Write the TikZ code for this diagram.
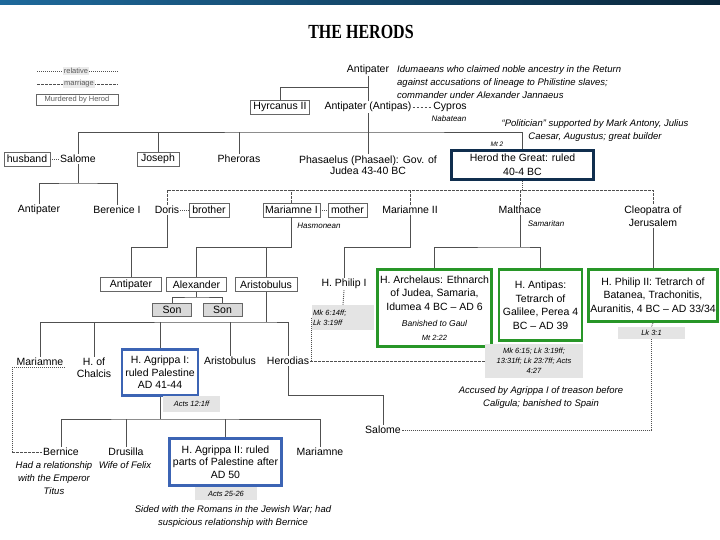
\documentclass[tikz,border=0pt]{standalone}
\usepackage{fontspec}
\setmainfont{Liberation Sans}
\newfontfamily\titlefont[FakeStretch=0.8]{Liberation Serif}
\definecolor{barblue}{RGB}{30,105,155}
\definecolor{bardark}{RGB}{10,38,58}
\definecolor{herodnavy}{RGB}{16,46,78}
\definecolor{rulegreen}{RGB}{40,150,40}
\definecolor{agrippablue}{RGB}{60,100,180}
\definecolor{linegray}{RGB}{80,80,80}
\definecolor{citegray}{RGB}{228,228,228}
\begin{document}
\begin{tikzpicture}[x=1pt,y=-1pt,
  person/.style={font=\fontsize{10.5}{12.5}\selectfont, inner sep=1pt, align=center},
  murdered/.style={person, draw=black!60, line width=0.7pt, inner sep=1.8pt, minimum height=14pt},
  son/.style={murdered, fill=black!15, minimum width=39pt, minimum height=13pt},
  ruler/.style={person, line width=2.6pt, inner sep=2pt},
  note/.style={font=\fontsize{9.5}{13}\selectfont\itshape, align=center, inner sep=0pt},
  smallnote/.style={font=\fontsize{8}{10}\selectfont\itshape, inner sep=0pt},
  cite/.style={fill=citegray, font=\fontsize{7.5}{10}\selectfont\itshape, align=center, inner sep=1pt},
  legend/.style={fill=black!8, text=black!65, font=\fontsize{7.5}{9}\selectfont, inner sep=1pt},
  tree/.style={draw=linegray, line width=0.9pt},
  kin/.style={tree, dash pattern=on 1pt off 1pt},
  wed/.style={tree, dash pattern=on 2.5pt off 1.5pt}]
\useasboundingbox (0,0) rectangle (720,540);
\shade[left color=barblue, right color=bardark] (0,0) rectangle (720,5);

\node[font=\titlefont\bfseries\fontsize{20}{22}\selectfont] (title) at (361,32) {THE HERODS};

\coordinate (kinA) at (37,71);
\coordinate (kinB) at (118,71);
\coordinate (wedA) at (37,84);
\coordinate (wedB) at (118,84);
\path[kin] (kinA) -- (kinB);
\path[wed] (wedA) -- (wedB);
\node[legend] (kinkey) at (76,71) {relative};
\node[legend] (wedkey) at (79,84) {marriage};
\node[murdered, legend, fill=none, minimum width=82pt, minimum height=11pt] (murderkey) at (77,100) {Murdered by Herod};

\node[person] (antipater) at (368,70) {Antipater};
\node[note, align=left, anchor=west] (idumeans) at (397,82) {Idumaeans who claimed noble ancestry in the Return\\against accusations of lineage to Philistine slaves;\\commander under Alexander Jannaeus};
\node[murdered, minimum width=59pt] (hyrcanus) at (280,107) {Hyrcanus II};
\node[person] (antipas) at (368,107) {Antipater (Antipas)};
\node[person] (cypros) at (450,107) {Cypros};
\node[smallnote] (nabatean) at (449,119) {Nabatean};
\node[note] (politician) at (595,131) {“Politician” supported by Mark Antony, Julius\\Caesar, Augustus; great builder};
\node[smallnote, font=\fontsize{6.5}{8}\selectfont\itshape] (mt2) at (497,144) {Mt 2};

\node[murdered, minimum width=46pt] (husband) at (27,159) {husband};
\node[person] (salome) at (78,159) {Salome};
\node[murdered, minimum width=42pt] (joseph) at (158,159) {Joseph};
\node[person] (pheroras) at (239,159) {Pheroras};
\node[person, font=\fontsize{10.5}{11.5}\selectfont] (phasaelus) at (368,165) {Phasaelus (Phasael): Gov. of\\Judea 43-40 BC};
\node[ruler, draw=herodnavy, minimum width=142pt, minimum height=29pt, font=\fontsize{10.5}{14}\selectfont] (herod) at (522.5,165) {Herod the Great: ruled\\40-4 BC};

\node[person] (santipater) at (39,210) {Antipater};
\node[person] (berenice) at (117,210) {Berenice I};
\node[person] (doris) at (167,210) {Doris};
\node[murdered, minimum width=40pt] (brother) at (209,210) {brother};
\node[murdered, minimum width=57pt] (mariamneA) at (291.5,210) {Mariamne I};
\node[murdered, minimum width=39pt] (mother) at (347.5,210) {mother};
\node[smallnote] (hasmonean) at (319,226) {Hasmonean};
\node[person] (mariamneB) at (410,210) {Mariamne II};
\node[person] (malthace) at (520,210) {Malthace};
\node[smallnote] (samaritan) at (546,224) {Samaritan};
\node[person, font=\fontsize{10.5}{13}\selectfont] (cleopatra) at (653,216) {Cleopatra of\\Jerusalem};

\node[murdered, minimum width=61pt] (dantipater) at (131,284.5) {Antipater};
\node[murdered, minimum width=60pt] (alexander) at (196.5,284.5) {Alexander};
\node[murdered, minimum width=62pt] (aristobulus) at (266,284.5) {Aristobulus};
\node[son] (sonA) at (172,309.5) {Son};
\node[son] (sonB) at (222.5,309.5) {Son};
\node[person] (philipA) at (344,284) {H. Philip I};
\node[cite, align=left, text width=60pt, minimum height=25pt] (philipAcite) at (343,317.5) {Mk 6:14ff;\\Lk 3:19ff};

\node[ruler, draw=rulegreen, minimum width=114pt, minimum height=77pt, font=\fontsize{10.5}{13.5}\selectfont] (archelaus) at (434.5,308) {H. Archelaus: Ethnarch\\of Judea, Samaria,\\Idumea 4 BC – AD 6\\[3pt]{\fontsize{8.5}{11}\selectfont\itshape Banished to Gaul}\\{\fontsize{7.5}{9}\selectfont\itshape Mt 2:22}};
\node[ruler, draw=rulegreen, minimum width=83pt, minimum height=71pt, font=\fontsize{10.5}{13.5}\selectfont] (antipasB) at (540.5,305) {H. Antipas:\\Tetrarch of\\Galilee, Perea 4\\BC – AD 39};
\node[ruler, draw=rulegreen, minimum width=127pt, minimum height=52pt, font=\fontsize{10.5}{13.5}\selectfont] (philipB) at (653,295.5) {H. Philip II: Tetrarch of\\Batanea, Trachonitis,\\Auranitis, 4 BC – AD 33/34};
\node[cite, minimum width=98pt, minimum height=34pt] (antipascite) at (534,361) {Mk 6:15; Lk 3:19ff;\\13:31ff; Lk 23:7ff; Acts\\4:27};
\node[cite, minimum width=67pt, minimum height=12pt] (philipBcite) at (651.5,333) {Lk 3:1};
\node[note] (accused) at (541,398) {Accused by Agrippa I of treason before\\Caligula; banished to Spain};

\node[person] (mariamneC) at (40,362) {Mariamne};
\node[person] (chalcis) at (94,368) {H. of\\Chalcis};
\node[ruler, draw=agrippablue, minimum width=76pt, minimum height=46pt] (agrippaA) at (160,372.5) {H. Agrippa I:\\ruled Palestine\\AD 41-44};
\node[person] (aristobulusB) at (230,361) {Aristobulus};
\node[person] (herodias) at (288,361) {Herodias};
\node[cite, minimum width=57pt, minimum height=16pt] (agrippaAcite) at (191.5,403.5) {Acts 12:1ff};
\node[person] (salomeB) at (383,430) {Salome};

\node[person] (bernice) at (61,452) {Bernice};
\node[note] (bernicenote) at (54,478) {Had a relationship\\with the Emperor\\Titus};
\node[person] (drusilla) at (126,452) {Drusilla};
\node[note] (felixnote) at (125,465) {Wife of Felix};
\node[ruler, draw=agrippablue, minimum width=112pt, minimum height=47pt] (agrippaB) at (225.5,462) {H. Agrippa II: ruled\\parts of Palestine after\\AD 50};
\node[person] (mariamneD) at (320,452) {Mariamne};
\node[cite, minimum width=62pt, minimum height=13pt] (agrippaBcite) at (226,493.5) {Acts 25-26};
\node[note] (sided) at (233,517) {Sided with the Romans in the Jewish War; had\\suspicious relationship with Bernice};

\coordinate (b0) at (368,87);
\coordinate (b1) at (368,132);
\coordinate (b2) at (78,183);
\coordinate (b3) at (522.5,190);
\coordinate (b4) at (167,247);
\coordinate (b5) at (291.5,247);
\coordinate (b6) at (196.5,297);
\coordinate (b7) at (266,322);
\coordinate (b8) at (410,247);
\coordinate (b9) at (520,247);
\coordinate (b10) at (383,395);
\coordinate (b11) at (160,419);
\coordinate (c1) at (12,452);

\path[tree] (antipater) -- (antipas);
\path[tree] (hyrcanus.north) |- (b0);
\path[wed] (antipas) -- (cypros);
\path[tree] (antipas.south) -- (phasaelus.north);
\path[tree] (salome.north) |- (b1) -| (herod.north);
\path[tree] (joseph.north) -- (joseph.north |- b1);
\path[tree] (pheroras.north) -- (pheroras.north |- b1);
\path[kin] (husband) -- (salome);
\path[tree] (salome.south) -- (b2);
\path[tree] (santipater.north) |- (b2) -| (berenice.north);

\path[kin] (herod.south) -- (b3);
\path[wed] (doris.north) |- (b3) -| (cleopatra.north);
\path[wed] (mariamneA.north) -- (mariamneA.north |- b3);
\path[wed] (mariamneB.north) -- (mariamneB.north |- b3);
\path[wed] (malthace.north) -- (malthace.north |- b3);
\path[kin] (doris) -- (brother);
\path[kin] (mariamneA) -- (mother);

\path[tree] (doris.south) -- (b4) -| (dantipater.north);
\path[tree] (mariamneA.south) -- (b5) -| (alexander.north);
\path[tree] (aristobulus.north) -- (aristobulus.north |- b5);
\path[tree] (alexander.south) -- (b6);
\path[tree] (sonA.north) |- (b6) -| (sonB.north);
\path[tree] (aristobulus.south) -- (b7);
\path[tree] (mariamneC.north) |- (b7) -| (herodias.north);
\path[tree] (chalcis.north) -- (chalcis.north |- b7);
\path[tree] (agrippaA.north) -- (agrippaA.north |- b7);
\path[tree] (aristobulusB.north) -- (aristobulusB.north |- b7);
\path[tree] (mariamneB.south) -- (b8) -| (philipA.north);
\path[tree] (malthace.south) -- (b9);
\path[tree] (archelaus.north) |- (b9) -| (antipasB.north);
\path[tree] (cleopatra.south) -- (philipB.north);

\path[kin] (philipA.south) -- (philipAcite.north);
\path[kin] (philipAcite.west) -- (philipAcite.west |- herodias.east);
\path[wed] (herodias) -- (antipascite);
\path[kin] (philipB.south) -- (philipBcite.north);
\path[kin] (philipBcite.south) |- (salomeB.east);
\path[tree] (herodias.south) |- (b10) -- (salomeB.north);
\path[kin] (mariamneC.south east) -| (c1);
\path[wed] (c1) -- (bernice.west);

\path[tree] (agrippaA.south) -- (b11);
\path[tree] (bernice.north) |- (b11) -| (mariamneD.north);
\path[tree] (drusilla.north) -- (drusilla.north |- b11);
\path[tree] (agrippaB.north) -- (agrippaB.north |- b11);
\end{tikzpicture}
\end{document}
